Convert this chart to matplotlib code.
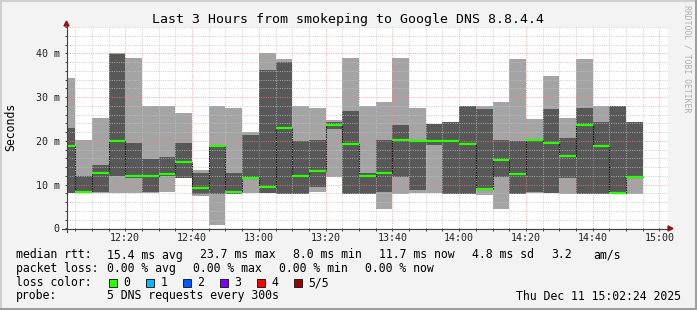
import datetime as dt
import matplotlib
matplotlib.use("Agg")
import matplotlib.pyplot as plt
import matplotlib.dates as mdates
from matplotlib.lines import Line2D
from matplotlib.patches import Rectangle, Polygon
from matplotlib.ticker import MultipleLocator

W, H = 697, 310
MONO = "DejaVu Sans Mono"

# one smoke column every 5 minutes, starting 12:00 (values in ms)
start = dt.datetime(2025, 12, 11, 12, 0)
light_lo = [8.0, 8.0, 8.0, 8.0, 8.0, 8.0, 8.3, 11.6, 7.3, 0.8, 8.0, 8.0,
            8.0, 8.0, 8.0, 8.3, 11.8, 8.0, 7.8, 4.5, 7.9, 8.0, 8.0, 7.9,
            7.9, 7.7, 4.3, 7.9, 8.0, 8.0, 7.9, 7.9, 7.9, 7.9, 7.9]
light_hi = [34.4, 20.2, 25.3, 40.0, 38.9, 28.0, 28.0, 26.4, 13.3, 28.0, 27.4, 21.9,
            40.0, 38.8, 28.0, 27.6, 24.8, 39.0, 28.0, 28.9, 39.0, 27.6, 23.8, 24.4,
            28.0, 28.0, 28.9, 38.8, 25.0, 34.9, 25.3, 38.8, 28.0, 28.0, 24.4]
dark_lo = [8.0, 8.0, 8.3, 12.0, 11.6, 8.3, 12.0, 11.6, 7.9, 7.9, 7.9, 11.4,
           8.0, 7.9, 7.9, 9.5, 22.8, 7.9, 7.8, 8.3, 11.8, 8.75, 19.0, 7.9,
           7.9, 8.9, 11.8, 7.9, 8.3, 8.0, 11.6, 7.9, 7.9, 7.9, 11.8]
dark_hi = [23.0, 12.0, 14.5, 39.8, 19.5, 15.9, 16.3, 19.4, 12.7, 19.0, 12.7, 21.4,
           36.2, 38.1, 20.0, 20.2, 24.2, 26.9, 12.7, 20.2, 23.7, 20.2, 23.8, 24.4,
           28.0, 27.3, 20.1, 20.0, 20.5, 27.3, 20.7, 27.6, 24.4, 28.0, 24.4]
median = [18.9, 8.3, 12.7, 20.0, 12.0, 12.0, 12.3, 15.2, 9.1, 18.9, 8.3, 11.6,
          9.5, 23.0, 12.0, 13.2, 23.7, 19.3, 12.0, 12.7, 20.1, 20.0, 20.0, 20.0,
          19.3, 8.9, 15.7, 12.4, 20.1, 19.6, 16.6, 23.7, 18.9, 8.0, 11.7]

yticks = [0, 10, 20, 30, 40]
ytick_labels = ["0", "10 m", "20 m", "30 m", "40 m"]

loss_labels = ["0", "1", "2", "3", "4", "5/5"]
loss_colors = ["#26ff00", "#00b8ff", "#0059ff", "#7e00ff", "#ff0000", "#a10000"]

rtt_items = [("median rtt:", 16), ("15.4 ms avg", 107.3), ("23.7 ms max", 200),
             ("8.0 ms min", 293.3), ("11.7 ms now", 379.3), ("4.8 ms sd", 472.3),
             ("3.2", 551.7), ("am/s", 593.3)]
loss_items = [("packet loss:", 16), ("0.00 % avg", 107.3), ("0.00 % max", 193.3),
              ("0.00 % min", 279.3), ("0.00 % now", 365)]


def fx(x):
    return x / W


def fy(y):
    return 1 - y / H


times = [start + dt.timedelta(minutes=5 * i) for i in range(len(median))]
x = mdates.date2num(times)
step = 5 / 1440.0

fig = plt.figure(figsize=(W / 100, H / 100), dpi=100, facecolor="#f3f3f3")
ax = fig.add_axes([fx(66.5), fy(228.3), (667.5 - 66.5) / W, (228.3 - 27) / H])
ax.set_facecolor("white")

# smoke
ax.bar(x, [h - l for l, h in zip(light_lo, light_hi)], bottom=light_lo, width=step,
       align="edge", color="#a4a4a4", linewidth=0, zorder=1)
ax.bar(x, [h - l for l, h in zip(dark_lo, dark_hi)], bottom=dark_lo, width=step,
       align="edge", color="#585858", linewidth=0, zorder=1.1)

# median
xs = list(x) + [x[-1] + step]
ax.step(xs, median + [median[-1]], where="post", color="black", lw=0.8,
        ls=(0, (1.2, 1.0)), zorder=3)
ax.hlines(median, x, x + step, color=loss_colors[0], lw=1.6, zorder=4)

ax.set_xlim(dt.datetime(2025, 12, 11, 12, 2, 24), dt.datetime(2025, 12, 11, 15, 2, 24))
ax.set_ylim(0, 46)

ax.xaxis.set_major_locator(mdates.MinuteLocator(byminute=[0, 20, 40]))
ax.xaxis.set_minor_locator(mdates.MinuteLocator(byminute=range(0, 60, 5)))
ax.xaxis.set_major_formatter(mdates.DateFormatter("%H:%M"))
ax.set_yticks(yticks)
ax.set_yticklabels(ytick_labels)
ax.yaxis.set_minor_locator(MultipleLocator(2))

ax.tick_params(which="both", direction="out", color="#404040", width=0.7,
               labelsize=7.2, labelcolor="#202020")
ax.tick_params(axis="x", which="both", length=2.2, pad=1.5)
ax.tick_params(axis="y", which="both", length=1.6, pad=3.2)
for lab in ax.get_xticklabels() + ax.get_yticklabels():
    lab.set_family(MONO)

ax.set_axisbelow(False)
ax.grid(which="minor", color="#c0c0c0", alpha=0.8, lw=0.7, ls=(0, (1, 1.4)))
ax.grid(which="major", color="#ff8080", alpha=0.7, lw=0.7, ls=(0, (1, 1.4)))
for s in ax.spines.values():
    s.set_visible(False)

# axes lines and arrows
fig.add_artist(Line2D([fx(66.5), fx(66.5)], [fy(231.5), fy(24)], color="#404040", lw=0.8))
fig.add_artist(Line2D([fx(62), fx(670)], [fy(228.5), fy(228.5)], color="#404040", lw=0.8))
fig.add_artist(Polygon([(fx(64), fy(26)), (fx(69), fy(26)), (fx(66.5), fy(21))],
                       closed=True, color="#a01010", transform=fig.transFigure))
fig.add_artist(Polygon([(fx(668), fy(226)), (fx(668), fy(231)), (fx(673), fy(228.5))],
                       closed=True, color="#a01010", transform=fig.transFigure))

# frame
fig.add_artist(Line2D([0, 1], [fy(1), fy(1)], color="#d0d0d0", lw=1.5))
fig.add_artist(Line2D([fx(1), fx(1)], [0, 1], color="#d0d0d0", lw=1.5))
fig.add_artist(Line2D([0, 1], [fy(308.5), fy(308.5)], color="#9e9e9e", lw=2.2))
fig.add_artist(Line2D([fx(695.5), fx(695.5)], [0, 1], color="#9e9e9e", lw=2.2))

# texts
fig.text(fx(348), fy(19), "Last 3 Hours from smokeping to Google DNS 8.8.4.4",
         ha="center", va="center", fontsize=9.5, family=MONO, color="black")
fig.text(fx(11), fy(127), "Seconds", rotation=90, ha="center", va="center",
         fontsize=8.3, family=MONO, color="black")
fig.text(fx(687.5), fy(59), "RRDTOOL / TOBI OETIKER", rotation=-90, ha="center",
         va="center", fontsize=5.9, family=MONO, color="#b0b0b0")

for s, xp in rtt_items:
    fig.text(fx(xp), fy(255), s, ha="left", va="center", fontsize=8.3, family=MONO)
for s, xp in loss_items:
    fig.text(fx(xp), fy(268.5), s, ha="left", va="center", fontsize=8.3, family=MONO)

fig.text(fx(16), fy(282.7), "loss color:", ha="left", va="center", fontsize=8.3, family=MONO)
for i, (lab, col) in enumerate(zip(loss_labels, loss_colors)):
    bx = 108.5 + 37 * i
    fig.add_artist(Rectangle((fx(bx), fy(286.7)), 8 / W, 8 / H, transform=fig.transFigure,
                             facecolor=col, edgecolor="#202020", lw=0.7))
    fig.text(fx(bx + 15), fy(282.7), lab, ha="left", va="center", fontsize=8.3, family=MONO)

fig.text(fx(16), fy(296), "probe:", ha="left", va="center", fontsize=8.3, family=MONO)
fig.text(fx(107.3), fy(296), "5 DNS requests every 300s", ha="left", va="center",
         fontsize=8.3, family=MONO)
fig.text(fx(680.5), fy(296), "Thu Dec 11 15:02:24 2025", ha="right", va="center",
         fontsize=8.3, family=MONO)

fig.savefig("out.png", dpi=100, facecolor=fig.get_facecolor())
